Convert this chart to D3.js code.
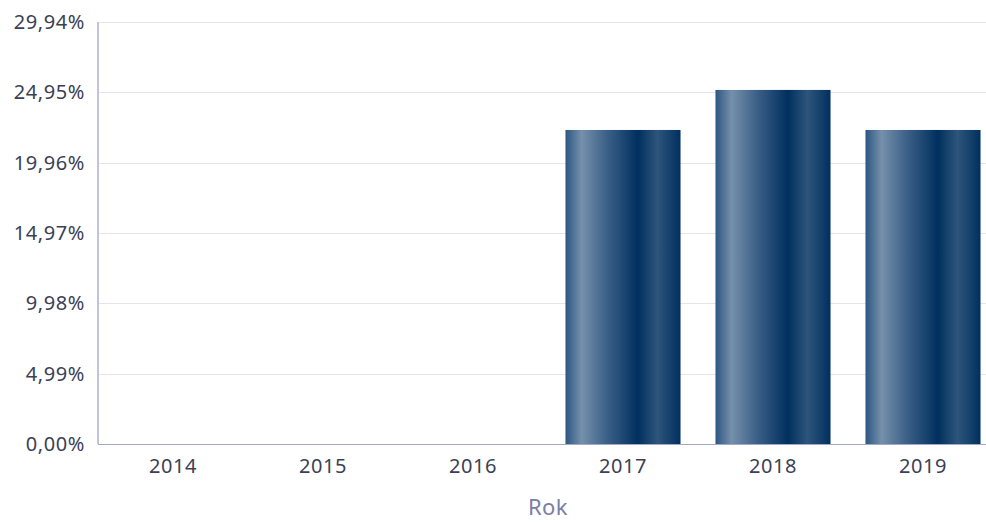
<!DOCTYPE html>
<html lang="en">
<head>
<meta charset="utf-8">
<script src="https://d3js.org/d3.v7.min.js"></script>
<style>
  body { margin: 0; background: #fff; }
  svg text { font-family: "Noto Sans", "Open Sans", sans-serif; }
</style>
</head>
<body>
<svg id="chart" width="986" height="522"></svg>
<script>
var years  = ["2014", "2015", "2016", "2017", "2018", "2019"]
var values = [0, 0, 0, 22.28, 25.12, 22.28]
var yTicks = [0, 4.99, 9.98, 14.97, 19.96, 24.95, 29.94]
var xTitle = "Rok"

var mLeft = 98, mRight = 998, mTop = 22, mBottom = 444, plotRight = 986

var svg = d3.select("#chart")

var x = d3.scaleBand().domain(years).range([mLeft, mRight]).paddingInner(0.233).paddingOuter(0.1165)
var y = d3.scaleLinear().domain([0, 29.94]).range([mBottom, mTop])

// bar gradient
var grad = svg.append("defs").append("linearGradient").attr("id", "barGrad")
    .attr("x1", "0%").attr("x2", "100%").attr("y1", "0%").attr("y2", "0%")
var stops = [[0, "#2c5682"], [0.14, "#7590ab"], [0.35, "#3e6289"], [0.63, "#00305f"], [0.8, "#2e557b"], [1, "#00305f"]]
stops.forEach(s => grad.append("stop").attr("offset", s[0]).attr("stop-color", s[1]))

// gridlines
svg.append("g").selectAll("line").data(yTicks.slice(1)).enter().append("line")
    .attr("x1", mLeft).attr("x2", plotRight)
    .attr("y1", d => Math.round(y(d)) + 0.5).attr("y2", d => Math.round(y(d)) + 0.5)
    .attr("stroke", "#e4e4ee").attr("stroke-width", 1)

// bars
svg.append("g").selectAll("rect").data(values).enter().append("rect")
    .attr("x", (d, i) => x(years[i]))
    .attr("width", x.bandwidth())
    .attr("y", d => y(d))
    .attr("height", d => mBottom - y(d))
    .attr("fill", "url(#barGrad)")

// axes lines
svg.append("line").attr("x1", mLeft).attr("x2", mLeft).attr("y1", mTop).attr("y2", mBottom)
    .attr("stroke", "#c0c3da").attr("stroke-width", 2)
svg.append("line").attr("x1", mLeft).attr("x2", plotRight).attr("y1", mBottom + 0.5).attr("y2", mBottom + 0.5)
    .attr("stroke", "#a4a7c6").attr("stroke-width", 1)

// y labels
var fmt = d => d.toFixed(2).replace(".", ",") + "%"
svg.append("g").selectAll("text").data(yTicks).enter().append("text")
    .attr("x", 85).attr("y", d => y(d) + 7)
    .attr("text-anchor", "end").attr("fill", "#3c3f55").attr("font-size", "20px")
    .attr("letter-spacing", "0.6px")
    .text(fmt)

// x labels
svg.append("g").selectAll("text").data(years).enter().append("text")
    .attr("x", d => x(d) + x.bandwidth() / 2).attr("y", 473)
    .attr("text-anchor", "middle").attr("fill", "#3c3f55").attr("font-size", "20px")
    .attr("letter-spacing", "0.6px")
    .text(d => d)

svg.append("text").attr("x", (mLeft + mRight) / 2).attr("y", 515)
    .attr("text-anchor", "middle").attr("fill", "#7a7ea6").attr("font-size", "22px")
    .attr("letter-spacing", "0.5px")
    .text(xTitle)
</script>
</body>
</html>
